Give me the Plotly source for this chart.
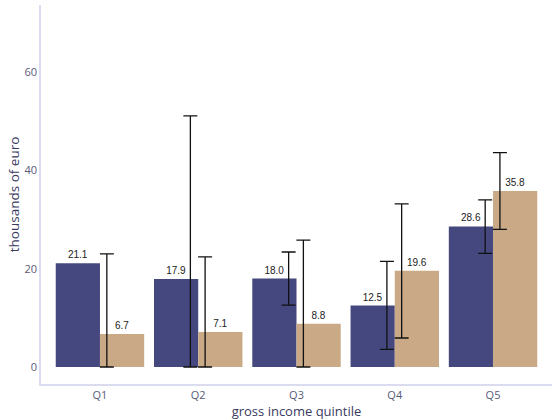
import plotly.graph_objects as go

# Household income by quintile: two series with confidence intervals
quintiles = ["Q1", "Q2", "Q3", "Q4", "Q5"]

series_a = [21.1, 17.9, 18.0, 12.5, 28.6]
series_a_low = [None, 0.0, 12.6, 3.6, 23.1]
series_a_high = [None, 51.1, 23.4, 21.5, 34.0]

series_b = [6.7, 7.1, 8.8, 19.6, 35.8]
series_b_low = [0.0, 0.0, 0.0, 5.9, 28.0]
series_b_high = [23.0, 22.4, 25.8, 33.2, 43.6]

NAVY = "#45487f"
TAN = "#c9a986"

pos = list(range(len(quintiles)))


def err_arrays(vals, low, high):
    ys, plus, minus = [], [], []
    for v, lo, hi in zip(vals, low, high):
        if lo is None or hi is None:
            ys.append(None)
            plus.append(0)
            minus.append(0)
        else:
            ys.append(v)
            plus.append(hi - v)
            minus.append(v - lo)
    return ys, plus, minus


fig = go.Figure()

for vals, color in ((series_a, NAVY), (series_b, TAN)):
    fig.add_trace(go.Bar(
        x=pos, y=vals, marker=dict(color=color, line=dict(width=0)),
        text=[f"{v:.1f}" for v in vals], textposition="outside",
        textfont=dict(family="Liberation Sans, Arial", size=10, color="#222222"),
        cliponaxis=False, showlegend=False,
    ))

# interval whiskers, slightly offset from the category centre
for vals, low, high, shift in ((series_a, series_a_low, series_a_high, -0.08),
                               (series_b, series_b_low, series_b_high, 0.07)):
    ys, plus, minus = err_arrays(vals, low, high)
    fig.add_trace(go.Scatter(
        x=[p + shift for p in pos], y=ys, mode="markers",
        marker=dict(size=1, color="rgba(0,0,0,0)"),
        error_y=dict(type="data", symmetric=False, array=plus, arrayminus=minus,
                     color="#111111", thickness=1.3, width=7),
        showlegend=False, hoverinfo="skip",
    ))

fig.update_layout(
    width=552, height=420,
    margin=dict(l=41, r=0, t=5, b=36),
    paper_bgcolor="white", plot_bgcolor="white",
    barmode="group", bargap=0.1, bargroupgap=0,
    font=dict(family="Open Sans", size=11, color="#5a5a78"),
    showlegend=False,
    xaxis=dict(
        range=[-0.6, 4.6], tickmode="array", tickvals=pos, ticktext=quintiles,
        showgrid=False, zeroline=False, showline=True, linecolor="#dcdcf0", linewidth=1.5,
        ticks="", tickfont=dict(size=11, color="#5a5a78"),
        title=dict(text="gross income quintile", font=dict(size=13, color="#3a3a62"), standoff=2),
    ),
    yaxis=dict(
        range=[-3.46, 73.65], tickvals=[0, 20, 40, 60],
        showgrid=False, zeroline=False, showline=True, linecolor="#dcdcf0", linewidth=1.5,
        ticks="", tickfont=dict(size=11, color="#5a5a78"),
        title=dict(text="thousands of euro", font=dict(size=13.5, color="#3a3a62"), standoff=2),
    ),
)

fig.write_html("out.html")
